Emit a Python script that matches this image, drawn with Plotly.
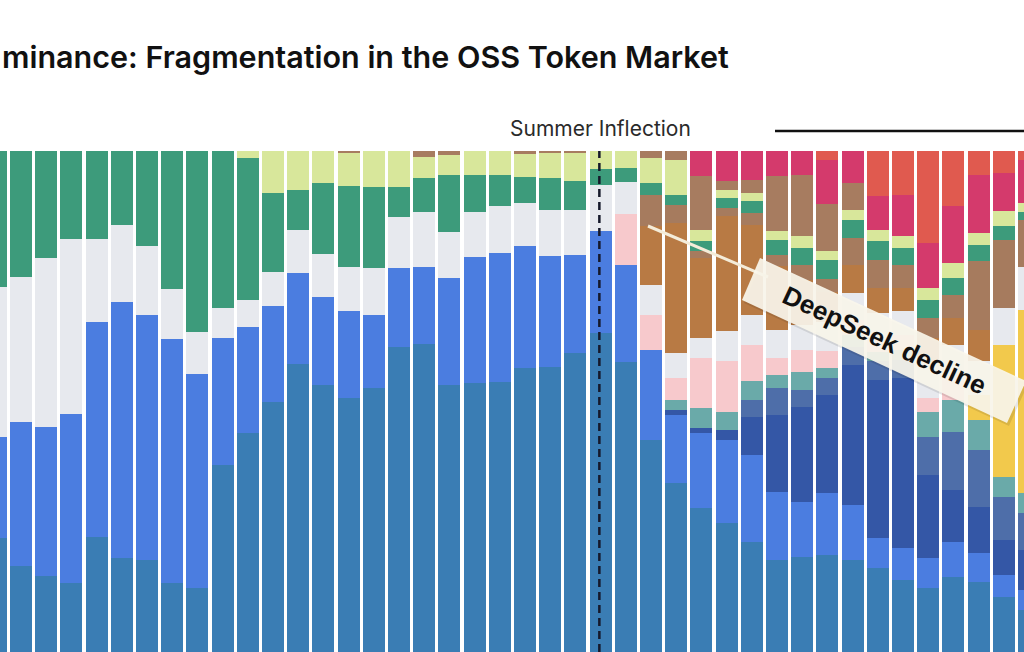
import plotly.graph_objects as go

# ---- data (share of the visible stack, bottom -> top) ----
weeks = list(range(42))

steel = [22.8, 17.2, 15.2, 13.8, 23, 18.8, 18.4, 13.8, 12.8, 37.4, 43.8, 50, 57.6, 53.4, 50.8, 52.8, 61, 61.6, 53.4, 53.8,
         54, 56.8, 57, 59.8, 63.8, 58, 42.4, 33.8, 28.8, 25.8, 22, 18.4, 19, 19.4, 18.4, 16.8, 14.4, 12.8, 15, 14, 11, 8.4]
royal = [20.2, 28.8, 29.8, 33.8, 43, 51.2, 49, 48.8, 42.8, 25.4, 21.2, 19.2, 18.2, 17.6, 17.4, 14.6, 15.8, 15.4, 21.4, 25.2,
         25.8, 24.4, 22.2, 19.6, 20.4, 19.4, 18, 13.6, 15, 16.6, 17.4, 13.6, 11, 12.4, 11, 6, 6.4, 6, 7, 5.8, 4.4, 4]
navy = [0] * 27 + [1, 1, 2, 7.6, 15.4, 19, 19.6, 28, 31.6, 34, 16.6, 10.4, 9.2, 7, 8]
slate = [0] * 30 + [3.4, 5.4, 3.4, 3.4, 3.6, 3.8, 3.6, 7.6, 11.6, 11.4, 8.6, 7.4]
teal = [0] * 27 + [2, 4, 3.6, 3.8, 2.6, 3.6, 2, 2.4, 1.8, 2, 5, 6.4, 6, 4, 4]
yellow = [0] * 39 + [5, 26.4, 36.6]
pink = [0] * 25 + [10.2, 7, 4.4, 10, 10.2, 7.2, 3.4, 4.4, 3.4, 3, 2.4, 3, 2.8, 5] + [0, 0, 0]
gray = [30, 29, 33.8, 35, 16.6, 15.4, 13.8, 10, 8.4, 6, 5.4, 6.8, 8.6, 8.6, 8.8, 9.4, 10.2, 11, 9.2, 9,
        9.4, 8.6, 9.2, 9, 9.2, 6.4, 6, 5, 4, 6, 6, 5.6, 5, 5.8, 5.4, 5.4, 4.8, 7.2, 6, 6.8, 7.4, 8.6]
brown = [0] * 26 + [11.8, 26, 16, 23, 18, 12.8, 9, 6, 5.6, 5, 4.6, 4.8, 5.4, 6.2] + [0, 0]
tan_low = [0] * 26 + [6.2, 3.6, 1.4, 1.6, 2.4, 2.2, 3, 2.6, 5.4, 5.6, 4.6, 4, 4.6, 13.8, 13.6, 9.4]
green = [27.2, 25.2, 21.4, 17.6, 17.6, 14.8, 19, 27.6, 36.2, 31.4, 28.4, 15.8, 8, 14.2, 16.2, 16.2, 6, 6.8, 11.4, 7.4,
         6.2, 5.2, 6.4, 5.8, 3.2, 2.8, 2.4, 2, 2, 2, 2.4, 3, 3.4, 3.8, 3.6, 3.8, 3.4, 3.6, 3.4, 3.2, 2.8, 1.6]
light_yellow = [0] * 10 + [1.4, 8.4, 7.8, 6.4, 6.6, 7.2, 7.2, 4.2, 4, 4.8, 4.8, 4.6, 5, 5.6, 3.6, 3.4, 5, 7, 2.2, 1.6,
                           1.6, 1.8, 2.4, 1.8, 2, 2.2, 2.4, 2.4, 3, 2.4, 3, 1.8]
tan_up = [0] * 14 + [0.4, 0, 0, 1.2, 0.8, 0, 0, 0.6, 0.4, 0.4, 0, 0, 1.4, 1.8, 10.8, 1.8, 2.6, 11, 12.2, 9.4, 5.4] + [0] * 7
magenta = [0] * 28 + [5, 6, 5.8, 5, 4.8, 8.8, 6.4, 6.8, 8.2, 9, 11.4, 11.6, 7.6, 8.6]
coral = [0] * 33 + [1.8, 0, 9, 8.8, 18.4, 11, 4.8, 4.4, 1.8]

title_text = "minance: Fragmentation in the OSS Token Market"
inflection_label = "Summer Inflection"
inflection_week = 23.95
callout_text = "DeepSeek decline"

series = [
    (steel, "#3a7db4"), (royal, "#4b7de0"), (navy, "#3457a6"), (slate, "#4e6ea9"),
    (teal, "#6aaaa9"), (yellow, "#f2c94c"), (pink, "#f7c9cc"), (gray, "#e7e9ee"),
    (brown, "#b87a44"), (tan_low, "#a67b5e"), (green, "#3d9b7b"), (light_yellow, "#d8e79b"),
    (tan_up, "#a77c60"), (magenta, "#d43a6c"), (coral, "#e05a4f"),
]

W, H = 1024, 652
TOP = 151
PH = H - TOP


def px(xp, yp):
    return xp / W, (H - yp) / PH


fig = go.Figure()
for vals, col in series:
    fig.add_trace(go.Bar(x=weeks, y=vals, marker=dict(color=col, line=dict(width=0)),
                         showlegend=False, hoverinfo="skip"))

fig.update_layout(
    width=W, height=H, barmode="stack", bargap=0.127,
    margin=dict(l=0, r=0, t=TOP, b=0),
    paper_bgcolor="white", plot_bgcolor="white",
    xaxis=dict(range=[0.1667, 40.80], visible=False),
    yaxis=dict(range=[0, 100.2], visible=False),
)

# dashed inflection line
fig.add_shape(type="line", xref="x", yref="paper", x0=inflection_week, x1=inflection_week, y0=0, y1=1,
              line=dict(color="#15182a", width=2.5, dash="8px,5px"))

# horizontal rule top right
x0p, y0p = px(775, 131)
fig.add_shape(type="line", xref="paper", yref="paper", x0=x0p, x1=1.01, y0=y0p, y1=y0p,
              line=dict(color="#111111", width=2.5))

# connector line
a = px(648, 226)
b = px(768, 277)
fig.add_shape(type="line", xref="paper", yref="paper", x0=a[0], y0=a[1], x1=b[0], y1=b[1],
              line=dict(color="#f4ecd9", width=3))

# rotated callout box
corners = [(742, 300), (760, 258), (1026, 381), (1007, 423)]


def path_of(pts, dx=0, dy=0):
    s = ""
    for i, (cx, cy) in enumerate(pts):
        p = px(cx + dx, cy + dy)
        s += ("M" if i == 0 else "L") + f"{p[0]:.5f},{p[1]:.5f} "
    return s + "Z"


fig.add_shape(type="path", xref="paper", yref="paper", path=path_of(corners, 2, 3),
              fillcolor="rgba(0,0,0,0.10)", line=dict(width=0))
fig.add_shape(type="path", xref="paper", yref="paper", path=path_of(corners),
              fillcolor="rgba(250,246,236,0.92)", line=dict(width=0))

c = px(884, 340)
fig.add_annotation(x=c[0], y=c[1], xref="paper", yref="paper", text=callout_text, showarrow=False,
                   textangle=25, font=dict(family="Liberation Sans, Arial", size=26, color="#111111", weight=600),
                   xanchor="center", yanchor="middle")

t = px(0, 56)
fig.add_annotation(x=0, y=t[1], xref="paper", yref="paper", text=title_text, showarrow=False,
                   xanchor="left", yanchor="middle",
                   font=dict(family="Inter, Roboto, sans-serif", size=30.5, color="#111111", weight=600))

s = px(600, 129)
fig.add_annotation(x=s[0], y=s[1], xref="paper", yref="paper", text=inflection_label, showarrow=False,
                   xanchor="center", yanchor="middle",
                   font=dict(family="Inter, Roboto, sans-serif", size=21, color="#2a2a2a"))

fig.write_html("out.html", config={"displayModeBar": False},
               post_script="document.body.style.margin='0';document.body.style.overflow='hidden';")
